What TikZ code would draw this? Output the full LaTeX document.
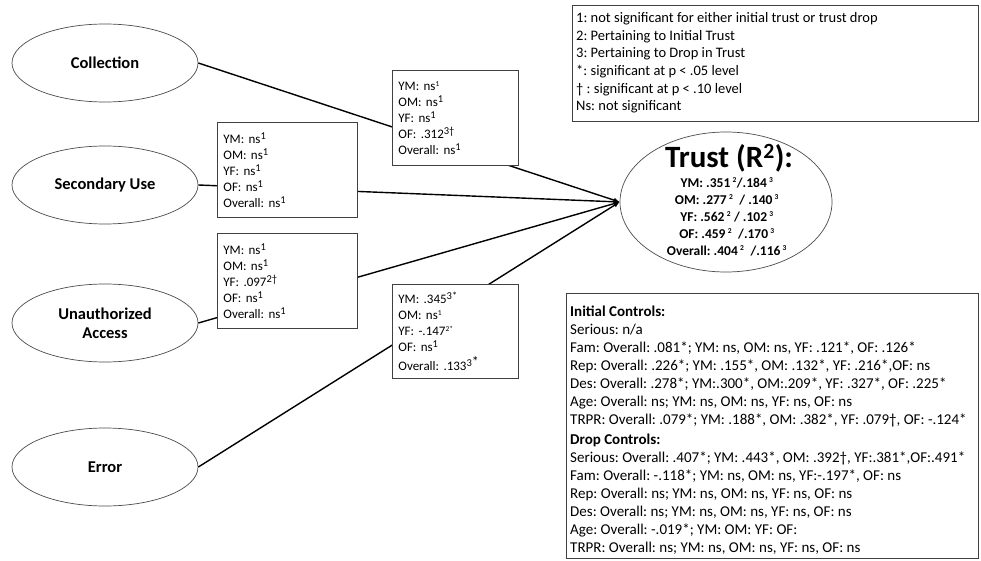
\documentclass[tikz,border=0pt]{standalone}
\usepackage{fontspec}
\setmainfont{Carlito}
\usetikzlibrary{shapes.geometric,arrows.meta}
\newcommand\supL[1]{\textsuperscript{\fontsize{10.5}{10.5}\selectfont #1}}
\newcommand\supS[1]{\textsuperscript{\fontsize{7.5}{8}\selectfont #1}}
\begin{document}
\frenchspacing
\begin{tikzpicture}[x=1pt,y=-1pt,
  factor/.style={ellipse, draw=black!70, line width=0.7pt, minimum width=186pt, minimum height=78pt, inner sep=0pt, align=center, font=\bfseries\fontsize{16.5}{19}\selectfont},
  link/.style={line width=1.4pt, -{Latex[length=6pt,width=5pt]}},
  coef/.style={draw=black!75, line width=0.8pt, fill=white, anchor=north west, inner xsep=6pt, inner ysep=0pt, align=left, minimum height=95pt, font=\fontsize{13}{16}\selectfont\frenchspacing},
  framebox/.style={draw=black!75, line width=0.8pt, fill=white, anchor=north west, inner sep=0pt},
  infotext/.style={anchor=north west, inner sep=0pt, align=left}]
\useasboundingbox (0,0) rectangle (981,561);
\fill[white] (0,0) rectangle (981,561);
% factor ellipses
\node[factor] (col) at (105,63) {Collection};
\node[factor] (sec) at (105,185) {Secondary Use};
\node[factor] (una) at (105,323) {Unauthorized\\Access};
\node[factor] (err) at (105,467) {Error};
% outcome
\node[ellipse, draw=black!70, line width=0.7pt, minimum width=212pt, minimum height=140pt, inner sep=0pt] (trust) at (726,202) {};
\node[font=\bfseries\fontsize{31}{33}\selectfont] (ttitle) at (729,158) {Trust (R\textsuperscript{2}):};
\node[font=\bfseries\fontsize{13.5}{17}\selectfont, align=center, anchor=north] (tvals) at (727,174)
 {YM: .351\,\supS{2}/.184\,\supS{3}\\
  OM: .277\,\supS{2}\ \ /\ .140\,\supS{3}\\
  YF: .562\,\supS{2}\ /\ .102\,\supS{3}\\
  OF: .459\,\supS{2}\ \ /.170\,\supS{3}\\
  Overall: .404\,\supS{2}\ \ /.116\,\supS{3}};
% connectors
\draw[link] (col.east) -- (trust.west);
\draw[link] (sec.east) -- (trust.west);
\draw[link] (una.east) -- (trust.west);
\draw[link] (err.east) -- (trust.west);
% coefficient boxes
\node[coef, text width=114pt] (b1) at (392,70)
 {YM: ns\supS{1}\\OM: ns\supL{1}\\YF: ns\supL{1}\\OF: .312\supL{3†}\\Overall: ns\supL{1}};
\node[coef, text width=128pt] (b2) at (217,122)
 {YM: ns\supL{1}\\OM: ns\supL{1}\\YF: ns\supL{1}\\OF: ns\supL{1}\\Overall: ns\supL{1}};
\node[coef, text width=128pt] (b3) at (217,233)
 {YM: ns\supL{1}\\OM: ns\supL{1}\\YF: .097\supL{2†}\\OF: ns\supL{1}\\Overall: ns\supL{1}};
\node[coef, text width=114pt, minimum height=94pt] (b4) at (392,284)
 {YM: .345\supL{3*}\\OM: ns\supS{1}\\YF: -.147\supS{2*}\\OF: ns\supL{1}\\[3pt]Overall: .133\supL{3{\fontsize{14}{14}\selectfont*}}};
% legend
\node[framebox, minimum width=406pt, minimum height=116pt] (legend) at (572,5) {};
\node[infotext, font=\fontsize{14.5}{17.6}\selectfont] (legendtext) at (576,12.5)
 {1: not significant for either initial trust or trust drop\\
  2: Pertaining to Initial Trust\\
  3: Pertaining to Drop in Trust\\
  {}*: significant at p < .05 level\\
  † : significant at p < .10 level\\
  Ns: not significant};
% controls
\node[framebox, minimum width=412pt, minimum height=265pt] (ctrl) at (566,293) {};
\node[infotext, font=\fontsize{15}{18}\selectfont] (ctrltext) at (570,306)
 {\textbf{Initial Controls:}\\
  Serious: n/a\\
  Fam: Overall: .081*; YM: ns, OM: ns, YF: .121*, OF: .126*\\
  Rep: Overall: .226*; YM: .155*, OM: .132*, YF: .216*,OF: ns\\
  Des: Overall: .278*; YM:.300*, OM:.209*, YF: .327*, OF: .225*\\
  Age: Overall: ns; YM: ns, OM: ns, YF: ns, OF: ns\\
  TRPR: Overall: .079*; YM: .188*, OM: .382*, YF: .079†, OF: -.124*\\[2pt]
  \textbf{Drop Controls:}\\
  Serious: Overall: .407*; YM: .443*, OM: .392†, YF:.381*,OF:.491*\\
  Fam: Overall: -.118*; YM: ns, OM: ns, YF:-.197*, OF: ns\\
  Rep: Overall: ns; YM: ns, OM: ns, YF: ns, OF: ns\\
  Des: Overall: ns; YM: ns, OM: ns, YF: ns, OF: ns\\
  Age: Overall: -.019*; YM: OM: YF: OF:\\
  TRPR: Overall: ns; YM: ns, OM: ns, YF: ns, OF: ns};
\end{tikzpicture}
\end{document}
